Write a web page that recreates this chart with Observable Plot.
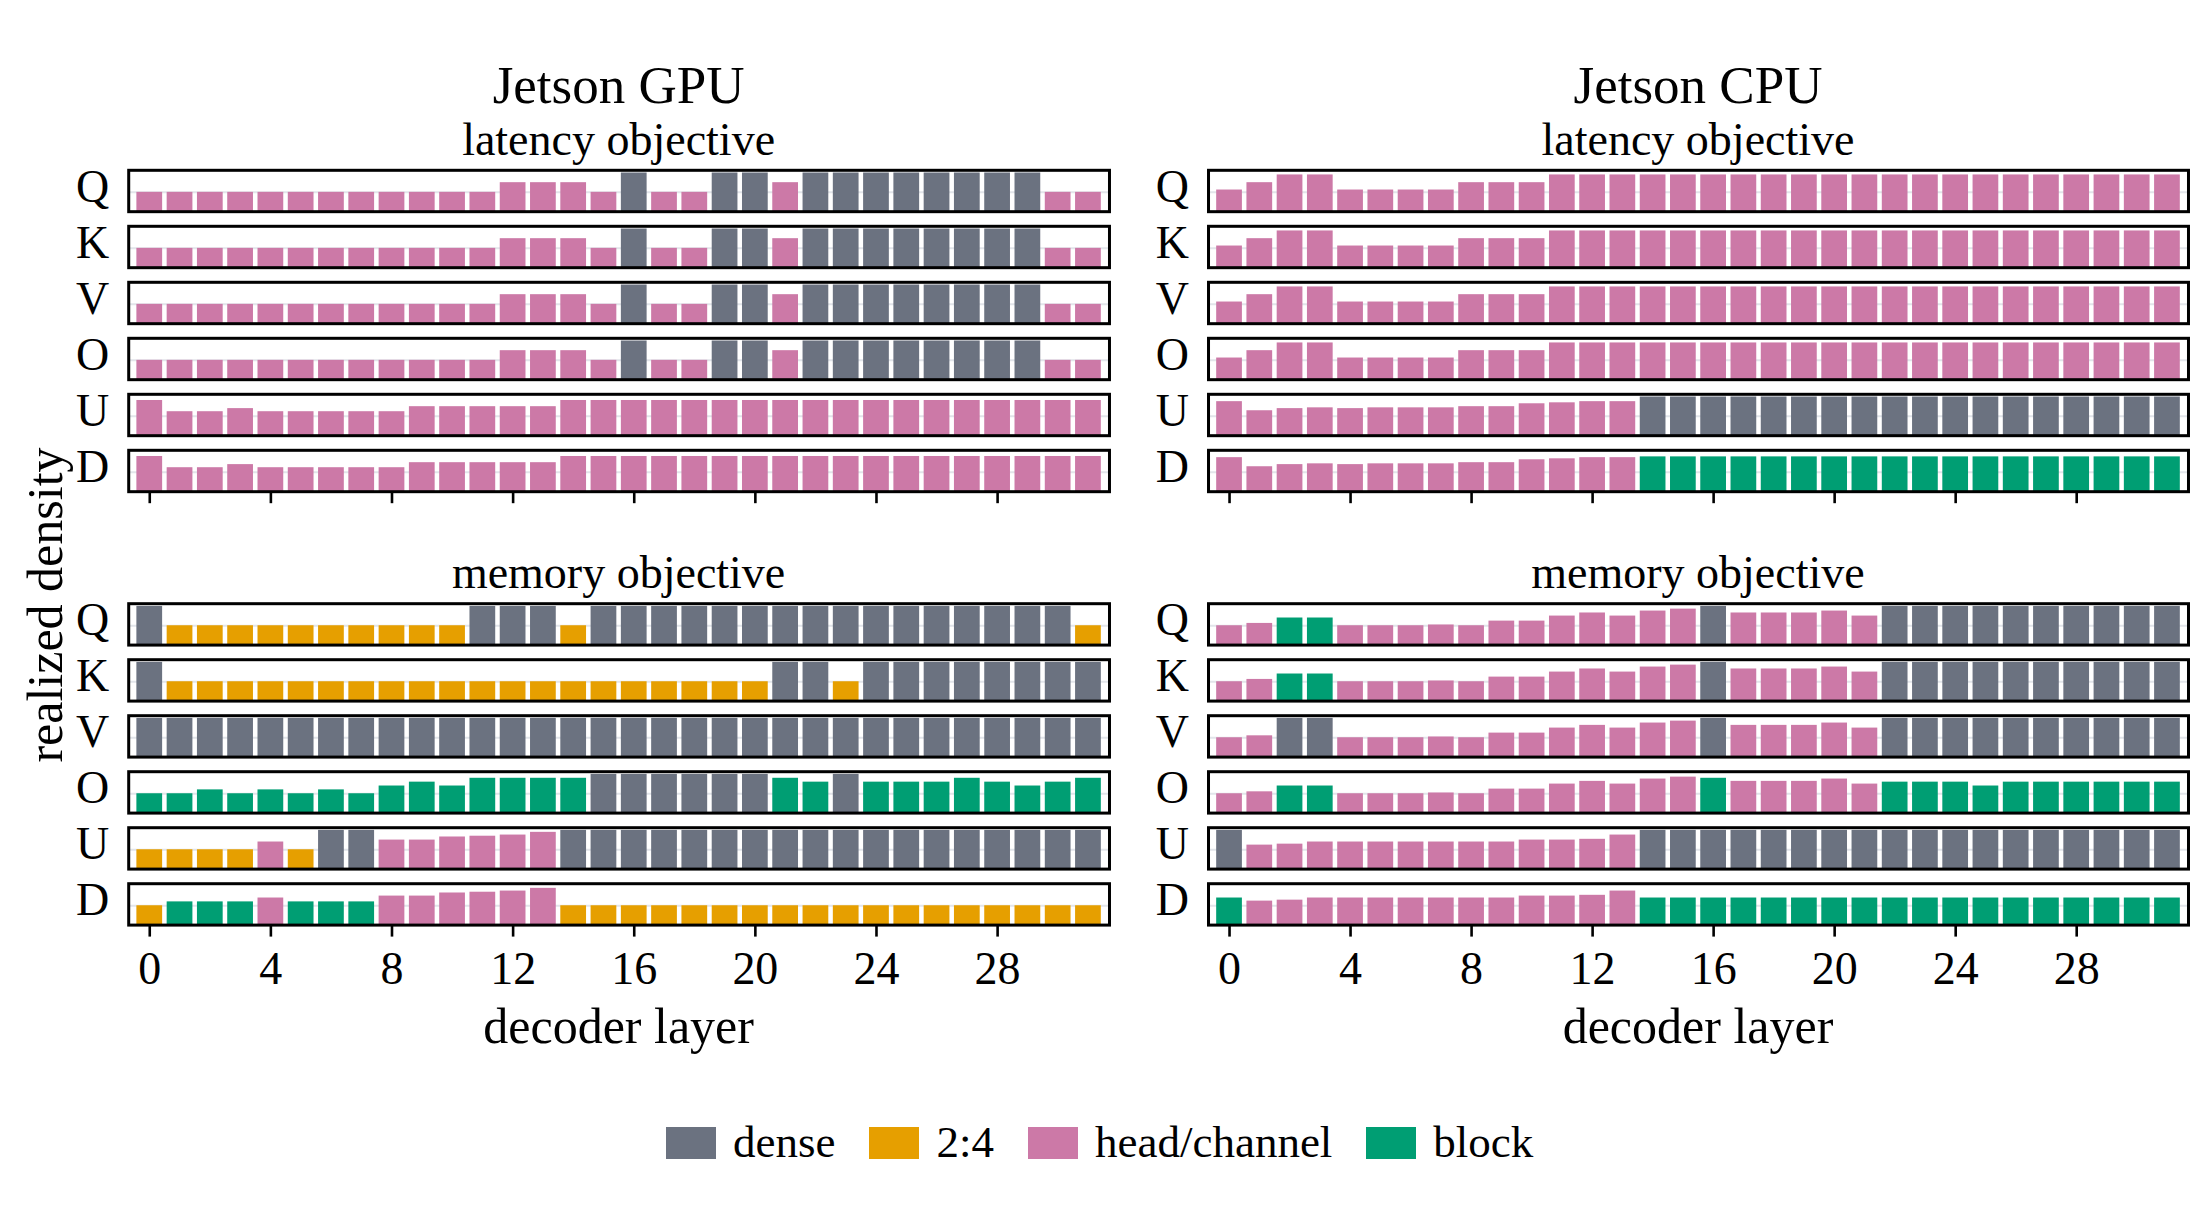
<!DOCTYPE html>
<html>
<head>
<meta charset="utf-8">
<script src="https://cdn.jsdelivr.net/npm/d3@7"></script>
<script src="https://cdn.jsdelivr.net/npm/@observablehq/plot@0.6"></script>
<style>
  body { margin: 0; background: #fff; }
  #fig { position: relative; width: 2200px; height: 1210px; overflow: hidden; background: #fff;
         font-family: "Liberation Serif", "Times New Roman", serif; color: #000; }
  .lbl { position: absolute; white-space: nowrap; text-align: center; z-index: 5; }
  #legend { position: absolute; left: 666px; top: 1120px; z-index: 5; line-height: 1; }
  #legend span { margin-right: 34px !important; }
  #legend span > svg { margin-right: 17px !important; }
</style>
</head>
<body>
<div id="fig"></div>
<script>
// ---------- categories ----------
const layers = [0,1,2,3,4,5,6,7,8,9,10,11,12,13,14,15,16,17,18,19,20,21,22,23,24,25,26,27,28,29,30,31];
const rows = ["Q","K","V","O","U","D"];
const xTicks = [0,4,8,12,16,20,24,28];
const typeNames = ["dense","2:4","head/channel","block"];
const typeColors = ["#6b7280","#e69f00","#cc79a7","#009e73"];
const typeCode = {D:"dense", S:"2:4", H:"head/channel", B:"block"};

// ---------- Jetson GPU, latency objective ----------
const gpuLatAttnDensity = [0.5,0.5,0.5,0.5,0.5,0.5,0.5,0.5,0.5,0.5,0.5,0.5,0.75,0.75,0.75,0.5,1,0.5,0.5,1,1,0.75,1,1,1,1,1,1,1,1,0.5,0.5];
const gpuLatAttnType    = "HHHHHHHHHHHHHHHHDHHDDHDDDDDDDDHH";
const gpuLatMlpDensity  = [0.91,0.62,0.62,0.7,0.62,0.62,0.62,0.62,0.62,0.75,0.75,0.75,0.75,0.75,0.91,0.91,0.91,0.91,0.91,0.91,0.91,0.91,0.91,0.91,0.91,0.91,0.91,0.91,0.91,0.91,0.91,0.91];
const gpuLatMlpType     = "HHHHHHHHHHHHHHHHHHHHHHHHHHHHHHHH";

// ---------- Jetson CPU, latency objective ----------
const cpuLatAttnDensity = [0.56,0.75,0.95,0.95,0.56,0.56,0.56,0.56,0.75,0.75,0.75,0.95,0.95,0.95,0.95,0.95,0.95,0.95,0.95,0.95,0.95,0.95,0.95,0.95,0.95,0.95,0.95,0.95,0.95,0.95,0.95,0.95];
const cpuLatAttnType    = "HHHHHHHHHHHHHHHHHHHHHHHHHHHHHHHH";
const cpuLatUpDensity   = [0.88,0.645,0.7,0.72,0.7,0.72,0.72,0.72,0.75,0.75,0.825,0.85,0.88,0.88,1,1,1,1,1,1,1,1,1,1,1,1,1,1,1,1,1,1];
const cpuLatUpType      = "HHHHHHHHHHHHHHDDDDDDDDDDDDDDDDDD";
const cpuLatDownDensity = [0.88,0.645,0.7,0.72,0.7,0.72,0.72,0.72,0.75,0.75,0.825,0.85,0.88,0.88,0.9,0.9,0.9,0.9,0.9,0.9,0.9,0.9,0.9,0.9,0.9,0.9,0.9,0.9,0.9,0.9,0.9,0.9];
const cpuLatDownType    = "HHHHHHHHHHHHHHBBBBBBBBBBBBBBBBBB";

// ---------- Jetson GPU, memory objective ----------
const gpuMemQDensity = [1,0.5,0.5,0.5,0.5,0.5,0.5,0.5,0.5,0.5,0.5,1,1,1,0.5,1,1,1,1,1,1,1,1,1,1,1,1,1,1,1,1,0.5];
const gpuMemQType    = "DSSSSSSSSSSDDDSDDDDDDDDDDDDDDDDS";
const gpuMemKDensity = [1,0.5,0.5,0.5,0.5,0.5,0.5,0.5,0.5,0.5,0.5,0.5,0.5,0.5,0.5,0.5,0.5,0.5,0.5,0.5,0.5,1,1,0.5,1,1,1,1,1,1,1,1];
const gpuMemKType    = "DSSSSSSSSSSSSSSSSSSSSDDSDDDDDDDD";
const gpuMemVDensity = [1,1,1,1,1,1,1,1,1,1,1,1,1,1,1,1,1,1,1,1,1,1,1,1,1,1,1,1,1,1,1,1];
const gpuMemVType    = "DDDDDDDDDDDDDDDDDDDDDDDDDDDDDDDD";
const gpuMemODensity = [0.5,0.5,0.6,0.5,0.6,0.5,0.6,0.5,0.7,0.8,0.7,0.9,0.9,0.9,0.9,1,1,1,1,1,1,0.9,0.8,1,0.8,0.8,0.8,0.9,0.8,0.7,0.8,0.9];
const gpuMemOType    = "BBBBBBBBBBBBBBBDDDDDDBBDBBBBBBBB";
const gpuMemUDensity = [0.5,0.5,0.5,0.5,0.7,0.5,1,1,0.75,0.75,0.83,0.85,0.88,0.95,1,1,1,1,1,1,1,1,1,1,1,1,1,1,1,1,1,1];
const gpuMemUType    = "SSSSHSDDHHHHHHDDDDDDDDDDDDDDDDDD";
const gpuMemDDensity = [0.5,0.6,0.6,0.6,0.7,0.6,0.6,0.6,0.75,0.75,0.83,0.85,0.88,0.95,0.5,0.5,0.5,0.5,0.5,0.5,0.5,0.5,0.5,0.5,0.5,0.5,0.5,0.5,0.5,0.5,0.5,0.5];
const gpuMemDType    = "SBBBHBBBHHHHHHSSSSSSSSSSSSSSSSSS";

// ---------- Jetson CPU, memory objective ----------
const cpuMemQDensity = [0.5,0.56,0.7,0.7,0.5,0.5,0.5,0.52,0.5,0.62,0.62,0.75,0.83,0.75,0.88,0.93,1,0.83,0.83,0.83,0.88,0.75,1,1,1,1,1,1,1,1,1,1];
const cpuMemQType    = "HHBBHHHHHHHHHHHHDHHHHHDDDDDDDDDD";
const cpuMemKDensity = [0.5,0.56,0.7,0.7,0.5,0.5,0.5,0.52,0.5,0.62,0.62,0.75,0.83,0.75,0.88,0.93,1,0.83,0.83,0.83,0.88,0.75,1,1,1,1,1,1,1,1,1,1];
const cpuMemKType    = "HHBBHHHHHHHHHHHHDHHHHHDDDDDDDDDD";
const cpuMemVDensity = [0.5,0.55,1,1,0.5,0.5,0.5,0.52,0.5,0.62,0.62,0.75,0.82,0.75,0.88,0.93,1,0.82,0.82,0.82,0.88,0.75,1,1,1,1,1,1,1,1,1,1];
const cpuMemVType    = "HHDDHHHHHHHHHHHHDHHHHHDDDDDDDDDD";
const cpuMemODensity = [0.5,0.55,0.7,0.7,0.5,0.5,0.5,0.52,0.5,0.62,0.62,0.75,0.82,0.75,0.88,0.93,0.9,0.82,0.82,0.82,0.88,0.75,0.8,0.8,0.8,0.7,0.8,0.8,0.8,0.8,0.8,0.8];
const cpuMemOType    = "HHBBHHHHHHHHHHHHBHHHHHBBBBBBBBBB";
const cpuMemUDensity = [1,0.62,0.645,0.7,0.7,0.7,0.7,0.7,0.7,0.7,0.75,0.75,0.77,0.88,1,1,1,1,1,1,1,1,1,1,1,1,1,1,1,1,1,1];
const cpuMemUType    = "DHHHHHHHHHHHHHDDDDDDDDDDDDDDDDDD";
const cpuMemDDensity = [0.7,0.62,0.645,0.7,0.7,0.7,0.7,0.7,0.7,0.7,0.75,0.75,0.77,0.88,0.7,0.7,0.7,0.7,0.7,0.7,0.7,0.7,0.7,0.7,0.7,0.7,0.7,0.7,0.7,0.7,0.7,0.7];
const cpuMemDType    = "BHHHHHHHHHHHHHBBBBBBBBBBBBBBBBBB";

// ---------- build tables ----------
function table(spec) {
  const out = [];
  for (const [row, dens, types] of spec) {
    layers.forEach((l, i) => out.push({row, layer: l, density: dens[i], type: typeCode[types[i]]}));
  }
  return out;
}
const gpuLat = table([["Q",gpuLatAttnDensity,gpuLatAttnType],["K",gpuLatAttnDensity,gpuLatAttnType],["V",gpuLatAttnDensity,gpuLatAttnType],["O",gpuLatAttnDensity,gpuLatAttnType],["U",gpuLatMlpDensity,gpuLatMlpType],["D",gpuLatMlpDensity,gpuLatMlpType]]);
const cpuLat = table([["Q",cpuLatAttnDensity,cpuLatAttnType],["K",cpuLatAttnDensity,cpuLatAttnType],["V",cpuLatAttnDensity,cpuLatAttnType],["O",cpuLatAttnDensity,cpuLatAttnType],["U",cpuLatUpDensity,cpuLatUpType],["D",cpuLatDownDensity,cpuLatDownType]]);
const gpuMem = table([["Q",gpuMemQDensity,gpuMemQType],["K",gpuMemKDensity,gpuMemKType],["V",gpuMemVDensity,gpuMemVType],["O",gpuMemODensity,gpuMemOType],["U",gpuMemUDensity,gpuMemUType],["D",gpuMemDDensity,gpuMemDType]]);
const cpuMem = table([["Q",cpuMemQDensity,cpuMemQType],["K",cpuMemKDensity,cpuMemKType],["V",cpuMemVDensity,cpuMemVType],["O",cpuMemODensity,cpuMemOType],["U",cpuMemUDensity,cpuMemUType],["D",cpuMemDDensity,cpuMemDType]]);

const fig = document.getElementById("fig");
const FONT = '"Liberation Serif", "Times New Roman", serif';

function panel(data, o) {
  const svg = Plot.plot({
    width: o.width, height: o.height,
    marginLeft: o.marginLeft, marginRight: o.marginRight,
    marginTop: o.marginTop, marginBottom: o.marginBottom,
    style: {fontFamily: FONT, fontSize: "46px", color: "#000", background: "transparent", overflow: "visible"},
    x: {type: "band", domain: layers, paddingInner: 0.15, paddingOuter: 0.27, round: false},
    y: {domain: [0, 1.07], axis: null},
    fy: {domain: rows, paddingInner: 0.261, paddingOuter: 0, round: false},
    color: {domain: typeNames, range: typeColors},
    marks: [
      Plot.ruleY([0.5], {stroke: "#e2e5ea", strokeWidth: 2}),
      Plot.barY(data, {x: "layer", y: "density", fy: "row", fill: "type"}),
      Plot.frame({stroke: "#000", strokeWidth: 3}),
      Plot.axisFy({anchor: "left", tickSize: 0, tickPadding: 19.5, label: null, fontSize: 46, dy: -4}),
      Plot.axisX({ticks: xTicks, tickSize: 12, strokeWidth: 2.6, tickPadding: 14, label: null, fontSize: 46,
                  facetAnchor: "bottom", tickFormat: o.labels ? (d) => String(d) : () => ""})
    ]
  });
  svg.style.position = "absolute";
  svg.style.left = o.left + "px";
  svg.style.top = o.top + "px";
  svg.style.maxWidth = "none";
  fig.appendChild(svg);
}

panel(gpuLat, {left: 0,    top: 100, width: 1130, height: 431.2, marginLeft: 128.2, marginRight: 21, marginTop: 69.8, marginBottom: 40, labels: false});
panel(cpuLat, {left: 1100, top: 100, width: 1100, height: 431.2, marginLeft: 108,   marginRight: 12, marginTop: 69.8, marginBottom: 40, labels: false});
panel(gpuMem, {left: 0,    top: 540, width: 1130, height: 464.6, marginLeft: 128.2, marginRight: 21, marginTop: 63.2, marginBottom: 80, labels: true});
panel(cpuMem, {left: 1100, top: 540, width: 1100, height: 464.6, marginLeft: 108,   marginRight: 12, marginTop: 63.2, marginBottom: 80, labels: true});

// ---------- text labels ----------
function label(text, cx, baseline, size) {
  const d = document.createElement("div");
  d.className = "lbl";
  d.textContent = text;
  d.style.fontSize = size + "px";
  d.style.lineHeight = size + "px";
  d.style.height = size + "px";
  d.style.width = "700px";
  d.style.left = (cx - 350) + "px";
  d.style.top = (baseline - 0.8375 * size) + "px";
  fig.appendChild(d);
}
const gpuCx = 618.6, cpuCx = 1698;
label("Jetson GPU", gpuCx, 103.3, 53);
label("Jetson CPU", cpuCx, 103.3, 53);
label("latency objective", gpuCx, 155.5, 46);
label("latency objective", cpuCx, 155.5, 46);
label("memory objective", gpuCx, 588.9, 46);
label("memory objective", cpuCx, 588.9, 46);
label("decoder layer", gpuCx, 1043.3, 50);
label("decoder layer", cpuCx, 1043.3, 50);

// rotated y label
const yl = document.createElement("div");
yl.className = "lbl";
yl.textContent = "realized density";
yl.style.fontSize = "50px";
yl.style.lineHeight = "50px";
yl.style.height = "50px";
yl.style.width = "600px";
yl.style.left = (44.8 - 300) + "px";
yl.style.top = (605 - 25) + "px";
yl.style.transform = "rotate(-90deg)";
fig.appendChild(yl);

// ---------- legend ----------
const leg = Plot.legend({
  color: {domain: typeNames, range: typeColors},
  legend: "swatches",
  swatchWidth: 50, swatchHeight: 32,
  style: {fontFamily: FONT, fontSize: "45px", color: "#000", lineHeight: "1"}
});
const legWrap = document.createElement("div");
legWrap.id = "legend";
legWrap.appendChild(leg);
fig.appendChild(legWrap);
</script>
</body>
</html>
